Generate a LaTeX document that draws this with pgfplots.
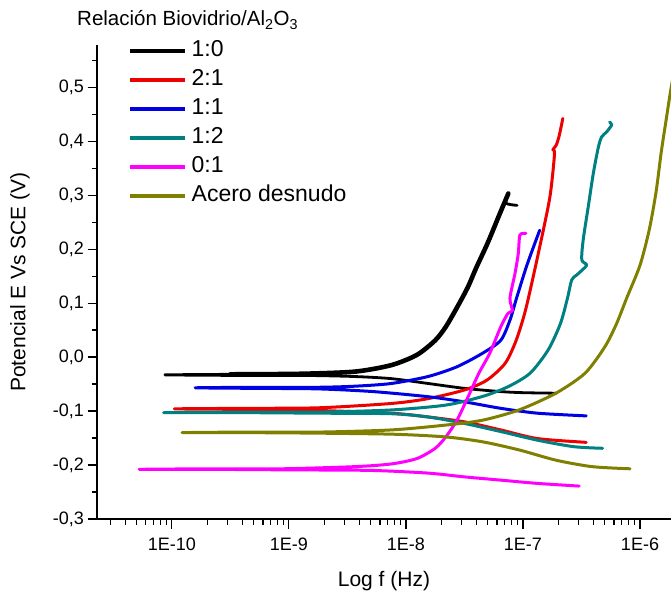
\documentclass[border=0pt]{standalone}
\usepackage{fontspec}
\setmainfont{Liberation Sans}
\usepackage{pgfplots}
\pgfplotsset{compat=1.18}

\definecolor{orgred}{RGB}{236,0,0}
\definecolor{orgblue}{RGB}{0,0,228}
\definecolor{orgteal}{RGB}{0,128,128}
\definecolor{orgmag}{RGB}{255,0,255}
\definecolor{orgolive}{RGB}{128,128,0}

\begin{document}
\begin{tikzpicture}
\useasboundingbox (-97pt,-76pt) rectangle (574pt,519pt);
\begin{axis}[
  at={(0pt,0pt)}, anchor=south west,
  scale only axis, width=574pt, height=474pt,
  xmode=log, xmin=2.29e-11, xmax=1.84e-6,
  ymin=-0.3, ymax=0.578,
  axis x line*=bottom, axis y line*=left,
  axis line style={line width=1.3pt},
  tick align=outside,
  major tick length=9.5pt, minor tick length=5.5pt,
  every tick/.style={line width=1.1pt, black},
  xtick={1e-10,1e-9,1e-8,1e-7,1e-6},
  xticklabels={1E-10,1E-9,1E-8,1E-7,1E-6},
  minor xtick={3e-11,4e-11,5e-11,6e-11,7e-11,8e-11,9e-11,
    2e-10,3e-10,4e-10,5e-10,6e-10,7e-10,8e-10,9e-10,
    2e-9,3e-9,4e-9,5e-9,6e-9,7e-9,8e-9,9e-9,
    2e-8,3e-8,4e-8,5e-8,6e-8,7e-8,8e-8,9e-8,
    2e-7,3e-7,4e-7,5e-7,6e-7,7e-7,8e-7,9e-7},
  ytick={-0.3,-0.2,-0.1,0,0.1,0.2,0.3,0.4,0.5},
  minor ytick={-0.25,-0.15,-0.05,0.05,0.15,0.25,0.35,0.45,0.55},
  yticklabel style={/pgf/number format/.cd, use comma, fixed, fixed zerofill, precision=1},
  xticklabel style={yshift=-6pt},
  /pgf/number format/assume math mode=true,
  tick label style={font=\fontsize{18}{18}\selectfont},
  xlabel={Log f (Hz)},
  ylabel={Potencial E Vs SCE (V)},
  label style={font=\fontsize{21}{21}\selectfont},
  xlabel style={at={(axis description cs:0.5,-0.13)}, anchor=center},
  ylabel style={at={(axis description cs:-0.134,0.5)}, anchor=center},
  legend cell align=left,
  legend style={draw=none, fill=none, at={(axis description cs:0.054,1.008)}, anchor=north west,
    font=\fontsize{23}{23}\selectfont, inner sep=0pt, row sep=9.5pt,
    nodes={inner sep=0pt, text height=15.5pt, text depth=4pt},
    /tikz/every odd column/.append style={column sep=4pt}},
  legend image code/.code={\draw[#1, line width=4.5pt, line cap=butt] (0pt,0pt) -- (55pt,0pt);},
  every axis plot/.append style={line join=round, line cap=round, line width=3pt, smooth, tension=0.45},
]

% 1:0
\addplot[black, line width=2.8pt] coordinates {
 (1.93e-7,-0.067) (1.0e-7,-0.066) (6.46e-8,-0.064) (3.16e-8,-0.058) (1.55e-8,-0.049)
 (7.5e-9,-0.040) (3.55e-9,-0.036) (1.26e-9,-0.034) (3.16e-10,-0.034) (8.7e-11,-0.033)
 (3.16e-10,-0.032) (1.26e-9,-0.031) (3.66e-9,-0.027) (7.5e-9,-0.015) (1.24e-8,0.004)
 (1.78e-8,0.031) (2.19e-8,0.056) (2.75e-8,0.093) (3.39e-8,0.130) (3.98e-8,0.165)
 (5.01e-8,0.212) (6.35e-8,0.266) (7.5e-8,0.303) (7.16e-8,0.285) (8.91e-8,0.281)};
\addlegendentry{1:0}
% dense anodic scan of 1:0, drawn heavier
\addplot[black, line width=4.6pt, forget plot] coordinates {
 (3.16e-10,-0.032) (1.26e-9,-0.031) (3.66e-9,-0.027) (7.5e-9,-0.015) (1.24e-8,0.004)
 (1.78e-8,0.031) (2.19e-8,0.056) (2.75e-8,0.093) (3.39e-8,0.130) (3.98e-8,0.165)
 (5.01e-8,0.212) (6.35e-8,0.266) (7.5e-8,0.303)};

% 2:1
\addplot[orgred] coordinates {
 (3.47e-7,-0.158) (1.33e-7,-0.151) (6.46e-8,-0.135) (3.16e-8,-0.120) (1.55e-8,-0.111)
 (7.5e-9,-0.104) (1.78e-9,-0.099) (3.98e-10,-0.097) (1.05e-10,-0.096) (3.98e-10,-0.095)
 (1.79e-9,-0.094) (7.5e-9,-0.086) (1.55e-8,-0.077) (3.16e-8,-0.061) (4.9e-8,-0.043)
 (7.02e-8,-0.012) (8.71e-8,0.030) (1.06e-7,0.090) (1.39e-7,0.204) (1.70e-7,0.297)
 (1.86e-7,0.376) (1.80e-7,0.384) (1.92e-7,0.392) (2.04e-7,0.410) (2.19e-7,0.442)};
\addlegendentry{2:1}

% 1:1
\addplot[orgblue] coordinates {
 (3.47e-7,-0.109) (1.33e-7,-0.104) (6.46e-8,-0.095) (3.16e-8,-0.083) (1.55e-8,-0.0735)
 (5.25e-9,-0.064) (1.78e-9,-0.059) (5.01e-10,-0.058) (1.58e-10,-0.057) (5.01e-10,-0.056)
 (1.78e-9,-0.056) (3.66e-9,-0.054) (7.5e-9,-0.049) (1.55e-8,-0.036) (2.73e-8,-0.018)
 (4.51e-8,0.007) (6.46e-8,0.031) (7.76e-8,0.069) (8.81e-8,0.109) (1.08e-7,0.170)
 (1.39e-7,0.235)};
\addlegendentry{1:1}

% 1:2
\addplot[orgteal] coordinates {
 (4.79e-7,-0.169) (2.71e-7,-0.166) (1.33e-7,-0.154) (6.46e-8,-0.138) (3.16e-8,-0.123)
 (1.55e-8,-0.111) (7.5e-9,-0.105) (1.78e-9,-0.104) (3.98e-10,-0.103) (8.5e-11,-0.103)
 (3.98e-10,-0.102) (1.79e-9,-0.102) (7.5e-9,-0.098) (2.19e-8,-0.089) (4.51e-8,-0.073)
 (7.45e-8,-0.055) (1.15e-7,-0.030) (1.64e-7,0.013) (2.09e-7,0.062) (2.40e-7,0.109)
 (2.61e-7,0.143) (2.88e-7,0.152) (3.50e-7,0.170) (3.18e-7,0.180) (3.27e-7,0.217)
 (3.61e-7,0.278) (3.99e-7,0.340) (4.41e-7,0.389) (4.71e-7,0.408) (5.19e-7,0.417)
 (5.73e-7,0.430) (5.5e-7,0.435)};
\addlegendentry{1:2}

% 0:1
\addplot[orgmag] coordinates {
 (3.02e-7,-0.239) (1.32e-7,-0.234) (6.46e-8,-0.228) (3.16e-8,-0.222) (1.55e-8,-0.215)
 (5.01e-9,-0.210) (1.0e-9,-0.209) (2.0e-10,-0.208) (5.25e-11,-0.208) (2.0e-10,-0.207)
 (8.7e-10,-0.207) (3.66e-9,-0.203) (7.5e-9,-0.198) (1.24e-8,-0.188) (1.78e-8,-0.169)
 (2.19e-8,-0.148) (2.73e-8,-0.117) (3.39e-8,-0.074) (4.2e-8,-0.030) (5.2e-8,0.007)
 (6.46e-8,0.056) (7.45e-8,0.081) (8.13e-8,0.086) (7.74e-8,0.109) (8.55e-8,0.155)
 (9.12e-8,0.192) (9.42e-8,0.226) (1.06e-7,0.229)};
\addlegendentry{0:1}

% bare steel
\addplot[orgolive] coordinates {
 (8.22e-7,-0.207) (3.89e-7,-0.203) (1.91e-7,-0.191) (9.25e-8,-0.172) (4.51e-8,-0.157)
 (2.19e-8,-0.148) (7.94e-9,-0.143) (1.78e-9,-0.141) (3.98e-10,-0.140) (1.22e-10,-0.140)
 (3.98e-10,-0.139) (1.79e-9,-0.139) (7.5e-9,-0.135) (2.19e-8,-0.126) (4.51e-8,-0.117)
 (9.25e-8,-0.098) (1.91e-7,-0.067) (3.39e-7,-0.030) (5.01e-7,0.019) (6.31e-7,0.062)
 (7.69e-7,0.109) (1.0e-6,0.170) (1.20e-6,0.236) (1.37e-6,0.305) (1.52e-6,0.380)
 (1.68e-6,0.442) (1.83e-6,0.494) (2.0e-6,0.54)};
\addlegendentry{Acero desnudo}
\end{axis}
\node[anchor=west, inner sep=0pt, font=\fontsize{20.5}{24}\selectfont] at (-20pt,499pt)
  {Relación Biovidrio/Al\textsubscript{2}O\textsubscript{3}};
\end{tikzpicture}
\end{document}
